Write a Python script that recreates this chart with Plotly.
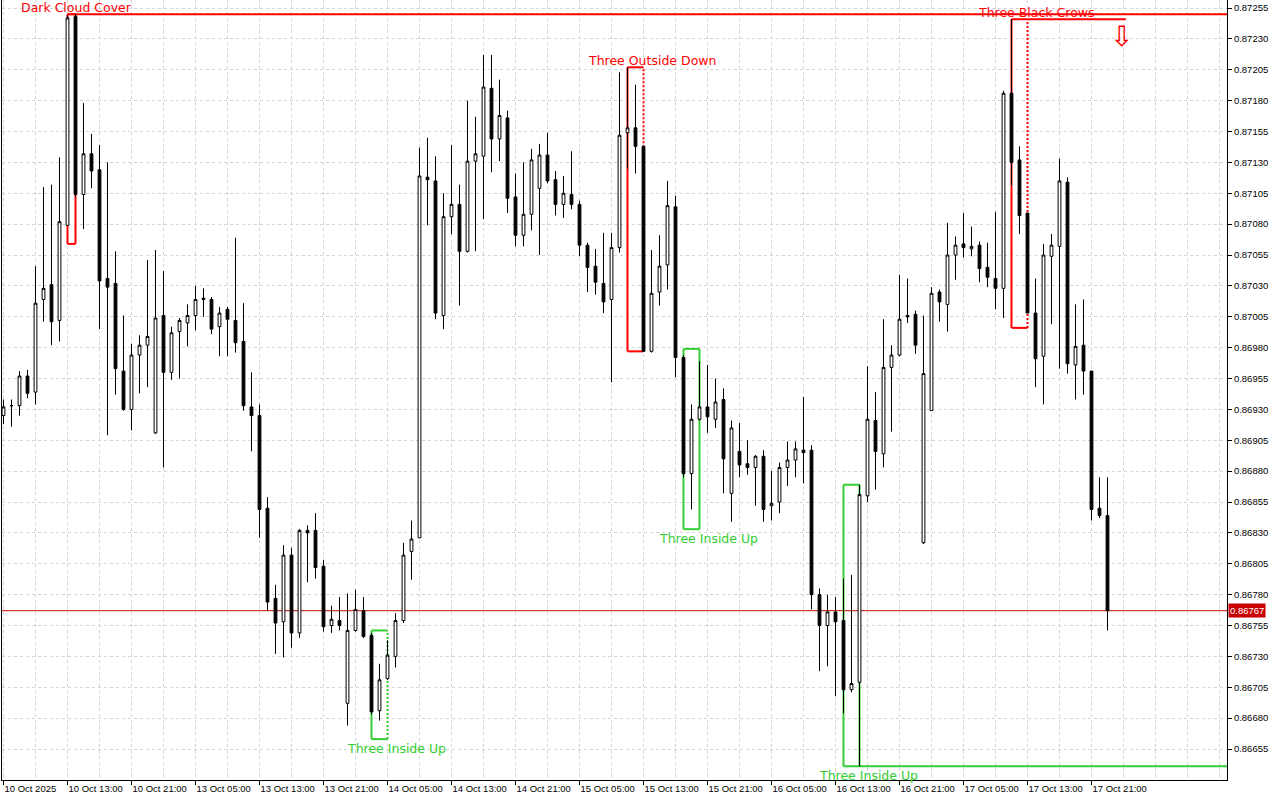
import plotly.graph_objects as go

# ---------------- data (EURGBP-like H1 candles) ----------------
OPEN = [0.86925, 0.86933, 0.86933, 0.86957, 0.86944, 0.87019, 0.87031, 0.87002, 0.87079, 0.87248,
        0.87104, 0.87137, 0.87124, 0.87036, 0.87032, 0.86961, 0.86930, 0.86974, 0.86982, 0.86911,
        0.87006, 0.86960, 0.86993, 0.87000, 0.87006, 0.87020, 0.87019, 0.86997, 0.87011, 0.87002,
        0.86985, 0.86932, 0.86925, 0.86850, 0.86777, 0.86758, 0.86812, 0.86749, 0.86832, 0.86832,
        0.86803, 0.86755, 0.86759, 0.86692, 0.86751, 0.86767, 0.86747, 0.86686, 0.86712, 0.86730,
        0.86759, 0.86815, 0.86826, 0.87118, 0.87115, 0.87006, 0.87086, 0.87096, 0.87058, 0.87131,
        0.87135, 0.87190, 0.87149, 0.87166, 0.87102, 0.87071, 0.87088, 0.87109, 0.87136, 0.87116,
        0.87096, 0.87104, 0.87096, 0.87063, 0.87046, 0.87032, 0.87019, 0.87061, 0.87154, 0.87158,
        0.87143, 0.86977, 0.87025, 0.87047, 0.87094, 0.86972, 0.86878, 0.86922, 0.86932, 0.86922,
        0.86938, 0.86862, 0.86896, 0.86886, 0.86883, 0.86892, 0.86852, 0.86855, 0.86883, 0.86889,
        0.86897, 0.86897, 0.86780, 0.86755, 0.86766, 0.86759, 0.86703, 0.86709, 0.86860, 0.86921,
        0.86894, 0.86964, 0.86974, 0.87006, 0.87007, 0.86822, 0.86929, 0.87025, 0.87015, 0.87055,
        0.87064, 0.87060, 0.87063, 0.87045, 0.87036, 0.87028, 0.87186, 0.87132, 0.87089, 0.87008,
        0.86973, 0.87054, 0.87062, 0.87114, 0.86966, 0.86982, 0.86961, 0.86850, 0.86844]
HIGH = [0.86938, 0.86938, 0.86961, 0.86962, 0.87046, 0.87110, 0.87112, 0.87134, 0.87249, 0.87250,
        0.87178, 0.87153, 0.87144, 0.87130, 0.87058, 0.87006, 0.86983, 0.86990, 0.87051, 0.87059,
        0.87042, 0.86997, 0.87004, 0.87015, 0.87030, 0.87028, 0.87021, 0.87013, 0.87013, 0.87069,
        0.87016, 0.86960, 0.86934, 0.86859, 0.86788, 0.86820, 0.86818, 0.86833, 0.86836, 0.86846,
        0.86808, 0.86771, 0.86778, 0.86781, 0.86784, 0.86778, 0.86749, 0.86724, 0.86743, 0.86765,
        0.86822, 0.86840, 0.87142, 0.87150, 0.87135, 0.87105, 0.87144, 0.87112, 0.87180, 0.87167,
        0.87217, 0.87217, 0.87197, 0.87172, 0.87121, 0.87130, 0.87141, 0.87145, 0.87154, 0.87123,
        0.87119, 0.87139, 0.87099, 0.87065, 0.87060, 0.87073, 0.87073, 0.87203, 0.87207, 0.87193,
        0.87143, 0.87059, 0.87071, 0.87115, 0.87103, 0.86974, 0.86934, 0.86969, 0.86966, 0.86955,
        0.86947, 0.86921, 0.86919, 0.86905, 0.86893, 0.86897, 0.86880, 0.86887, 0.86904, 0.86904,
        0.86940, 0.86901, 0.86785, 0.86780, 0.86778, 0.86793, 0.86796, 0.86869, 0.86965, 0.86944,
        0.87003, 0.86982, 0.87039, 0.87036, 0.87010, 0.87006, 0.87029, 0.87027, 0.87081, 0.87070,
        0.87089, 0.87078, 0.87066, 0.87065, 0.87090, 0.87188, 0.87246, 0.87143, 0.87089, 0.87036,
        0.87064, 0.87072, 0.87133, 0.87118, 0.87015, 0.87019, 0.86961, 0.86875, 0.86875]
LOW = [0.86918, 0.86916, 0.86925, 0.86939, 0.86934, 0.87001, 0.86982, 0.86985, 0.87079, 0.87102,
       0.87076, 0.87109, 0.86995, 0.86909, 0.86942, 0.86929, 0.86913, 0.86943, 0.86948, 0.86910,
       0.86883, 0.86954, 0.86955, 0.86981, 0.86994, 0.87005, 0.86991, 0.86973, 0.86973, 0.86976,
       0.86929, 0.86896, 0.86826, 0.86767, 0.86732, 0.86729, 0.86737, 0.86745, 0.86790, 0.86793,
       0.86750, 0.86749, 0.86751, 0.86674, 0.86750, 0.86745, 0.86683, 0.86678, 0.86711, 0.86721,
       0.86757, 0.86792, 0.86826, 0.87079, 0.87003, 0.86995, 0.87072, 0.87014, 0.87057, 0.87058,
       0.87084, 0.87122, 0.87131, 0.87089, 0.87062, 0.87062, 0.87075, 0.87055, 0.87113, 0.87087,
       0.87085, 0.87092, 0.87054, 0.87025, 0.87023, 0.87008, 0.86952, 0.87057, 0.87125, 0.87121,
       0.86977, 0.86976, 0.87014, 0.87027, 0.86956, 0.86875, 0.86849, 0.86921, 0.86911, 0.86915,
       0.86862, 0.86839, 0.86875, 0.86877, 0.86852, 0.86839, 0.86840, 0.86846, 0.86868, 0.86875,
       0.86870, 0.86768, 0.86718, 0.86722, 0.86698, 0.86684, 0.86701, 0.86641, 0.86855, 0.86865,
       0.86883, 0.86912, 0.86973, 0.87000, 0.86975, 0.86821, 0.86929, 0.87001, 0.86993, 0.87035,
       0.87053, 0.87054, 0.87033, 0.87029, 0.87011, 0.87004, 0.87111, 0.87072, 0.87008, 0.86948,
       0.86934, 0.86999, 0.86963, 0.86959, 0.86938, 0.86942, 0.86840, 0.86842, 0.86751]
CLOSE = [0.86932, 0.86933, 0.86957, 0.86943, 0.87016, 0.87028, 0.87001, 0.87082, 0.87247, 0.87104,
         0.87137, 0.87123, 0.87034, 0.87029, 0.86963, 0.86930, 0.86974, 0.86982, 0.86989, 0.87004,
         0.86960, 0.86992, 0.87002, 0.87006, 0.87019, 0.87019, 0.86995, 0.87008, 0.87003, 0.86984,
         0.86933, 0.86925, 0.86849, 0.86774, 0.86757, 0.86812, 0.86749, 0.86832, 0.86830, 0.86802,
         0.86754, 0.86760, 0.86755, 0.86751, 0.86768, 0.86746, 0.86685, 0.86711, 0.86731, 0.86759,
         0.86812, 0.86825, 0.87119, 0.87116, 0.87008, 0.87086, 0.87096, 0.87058, 0.87131, 0.87137,
         0.87191, 0.87149, 0.87168, 0.87101, 0.87071, 0.87088, 0.87132, 0.87136, 0.87115, 0.87096,
         0.87105, 0.87096, 0.87063, 0.87045, 0.87033, 0.87017, 0.87061, 0.87152, 0.87158, 0.87143,
         0.86977, 0.87024, 0.87046, 0.87095, 0.86972, 0.86878, 0.86922, 0.86932, 0.86924, 0.86936,
         0.86890, 0.86915, 0.86885, 0.86883, 0.86892, 0.86849, 0.86854, 0.86883, 0.86889, 0.86898,
         0.86895, 0.86780, 0.86755, 0.86766, 0.86758, 0.86703, 0.86708, 0.86861, 0.86922, 0.86896,
         0.86964, 0.86974, 0.87003, 0.87005, 0.86982, 0.86959, 0.87024, 0.87017, 0.87055, 0.87063,
         0.87061, 0.87062, 0.87044, 0.87037, 0.87028, 0.87186, 0.87130, 0.87087, 0.87008, 0.86971,
         0.87055, 0.87063, 0.87115, 0.86967, 0.86981, 0.86961, 0.86849, 0.86844, 0.86767]

X_TICK_BARS = [0, 8, 16, 24, 32, 40, 48, 56, 64, 72, 80, 88, 96, 104, 112, 120, 128, 136]
X_TICK_TEXT = ["10 Oct 2025", "10 Oct 13:00", "10 Oct 21:00", "13 Oct 05:00", "13 Oct 13:00",
               "13 Oct 21:00", "14 Oct 05:00", "14 Oct 13:00", "14 Oct 21:00", "15 Oct 05:00",
               "15 Oct 13:00", "15 Oct 21:00", "16 Oct 05:00", "16 Oct 13:00", "16 Oct 21:00",
               "17 Oct 05:00", "17 Oct 13:00", "17 Oct 21:00"]
Y_TICK_TEXT = ["0.87255", "0.87230", "0.87205", "0.87180", "0.87155", "0.87130", "0.87105",
               "0.87080", "0.87055", "0.87030", "0.87005", "0.86980", "0.86955", "0.86930",
               "0.86905", "0.86880", "0.86855", "0.86830", "0.86805", "0.86780", "0.86755",
               "0.86730", "0.86705", "0.86680", "0.86655"]

PATTERN_NAMES = ["Dark Cloud Cover", "Three Outside Down", "Three Inside Up",
                 "Three Inside Up", "Three Inside Up", "Three Black Crows"]
PATTERN_FIRST = [8, 78, 46, 85, 105, 126]
PATTERN_LAST = [9, 80, 48, 87, 107, 128]
PATTERN_HIGH = [0.87250, 0.87207, 0.86751, 0.86979, 0.86869, 0.87246]
PATTERN_LOW = [0.87064, 0.86977, 0.86663, 0.86833, 0.86641, 0.86996]
PATTERN_BEARISH = [True, True, False, False, False, True]
PATTERN_LABEL_X = [9.1, 81.1, 49.1, 88.1, 108.1, 129.1]
PATTERN_RIGHT_DASHED = [False, True, True, False, False, True]
PATTERN_EXTEND_TO = [None, None, None, None, "edge", 140.3]   # extension of the signal level
LEVEL_LINE_FROM = 8            # Dark Cloud Cover high level line start bar
LEVEL_LINE_PRICE = 0.87250
LAST_PRICE = 0.86767
SIGNAL_ARROW_BAR = 139.75
SIGNAL_ARROW_PRICE = 0.87232

X_RANGE = [-0.1875, 152.9375]
Y_RANGE = [0.866299, 0.872615]

RED = "#ff0000"
GREEN = "#32cd32"
GRID = "#d4d4d4"
FONT = "Liberation Sans"

n = len(OPEN)
xs = list(range(n))

fig = go.Figure()
fig.add_trace(go.Candlestick(
    x=xs, open=OPEN, high=HIGH, low=LOW, close=CLOSE,
    increasing=dict(fillcolor="white", line=dict(color="black", width=1)),
    decreasing=dict(fillcolor="black", line=dict(color="black", width=1)),
    whiskerwidth=0, showlegend=False, hoverinfo="skip",
))

shapes = []
annotations = []

# current price line
shapes.append(dict(type="line", xref="paper", x0=0, x1=1, yref="y", y0=LAST_PRICE, y1=LAST_PRICE,
                   line=dict(color="#cc0000", width=1), layer="between"))

# Dark Cloud Cover level line to right edge
shapes.append(dict(type="line", xref="x", x0=LEVEL_LINE_FROM, x1=X_RANGE[1], yref="y",
                   y0=LEVEL_LINE_PRICE, y1=LEVEL_LINE_PRICE, line=dict(color=RED, width=2),
                   layer="between"))

for name, f, l, hi, lo, bear, lx, dashed, ext in zip(
        PATTERN_NAMES, PATTERN_FIRST, PATTERN_LAST, PATTERN_HIGH, PATTERN_LOW,
        PATTERN_BEARISH, PATTERN_LABEL_X, PATTERN_RIGHT_DASHED, PATTERN_EXTEND_TO):
    col = RED if bear else GREEN
    solid = dict(color=col, width=2)
    top_x1 = l
    bot_x1 = l
    if ext is not None:
        end = X_RANGE[1] if ext == "edge" else ext
        if bear:
            top_x1 = end
        else:
            bot_x1 = end
    shapes.append(dict(type="line", x0=f, x1=top_x1, y0=hi, y1=hi, line=solid, layer="between"))
    shapes.append(dict(type="line", x0=f, x1=bot_x1, y0=lo, y1=lo, line=solid, layer="between"))
    shapes.append(dict(type="line", x0=f, x1=f, y0=lo, y1=hi, line=solid, layer="between"))
    shapes.append(dict(type="line", x0=l, x1=l, y0=lo, y1=hi,
                       line=dict(color=col, width=2, dash="2px,2px" if dashed else "solid"),
                       layer="between"))
    annotations.append(dict(
        x=lx, y=hi if bear else lo, xref="x", yref="y", text=name, showarrow=False,
        xanchor="center", yanchor="bottom" if bear else "top",
        yshift=-2 if bear else -1,
        font=dict(family="DejaVu Sans", size=12.5, color=col), borderpad=0,
    ))

# sell signal arrow
annotations.append(dict(x=SIGNAL_ARROW_BAR, y=SIGNAL_ARROW_PRICE, xref="x", yref="y", text="⇩",
                        showarrow=False, font=dict(family="DejaVu Sans", size=28, color=RED)))

# last price label on the price scale
annotations.append(dict(x=1, y=LAST_PRICE, xref="paper", yref="y", text="0.86767",
                        showarrow=False, xanchor="left", yanchor="middle", xshift=1,
                        bgcolor="#c80000", borderpad=1,
                        font=dict(family=FONT, size=9.5, color="white")))

fig.update_layout(
    width=1280, height=800,
    margin=dict(l=2, r=53, t=0, b=20, autoexpand=False),
    paper_bgcolor="white", plot_bgcolor="white",
    showlegend=False, boxgap=0.5,
    font=dict(family=FONT, size=9.5, color="black"),
    shapes=shapes, annotations=annotations,
    xaxis=dict(
        range=X_RANGE, tickmode="array", tickvals=X_TICK_BARS, ticktext=X_TICK_TEXT,
        ticks="outside", ticklen=4, tickcolor="black", tickwidth=1,
        ticklabelposition="outside right", automargin=False,
        showline=True, linecolor="black", linewidth=1,
        showgrid=True, gridcolor=GRID, griddash="3px,3px", gridwidth=1,
        minor=dict(tickmode="linear", tick0=0, dtick=4, showgrid=True, gridcolor=GRID,
                   griddash="3px,3px", ticklen=0),
        zeroline=False, rangeslider=dict(visible=False),
        tickfont=dict(family=FONT, size=9.5, color="black"),
    ),
    yaxis=dict(
        side="right", range=Y_RANGE, tickmode="array", automargin=False,
        tickvals=[float(t) for t in Y_TICK_TEXT], ticktext=Y_TICK_TEXT,
        ticks="outside", ticklen=4, tickcolor="black", tickwidth=1,
        showline=True, mirror=True, linecolor="black", linewidth=1,
        showgrid=True, gridcolor=GRID, griddash="3px,3px", gridwidth=1,
        zeroline=False,
        tickfont=dict(family=FONT, size=9.5, color="black"),
    ),
)

fig.write_html("out.html", config={"displayModeBar": False, "staticPlot": True},
               post_script="document.body.style.margin='0';document.body.style.overflow='hidden';")
